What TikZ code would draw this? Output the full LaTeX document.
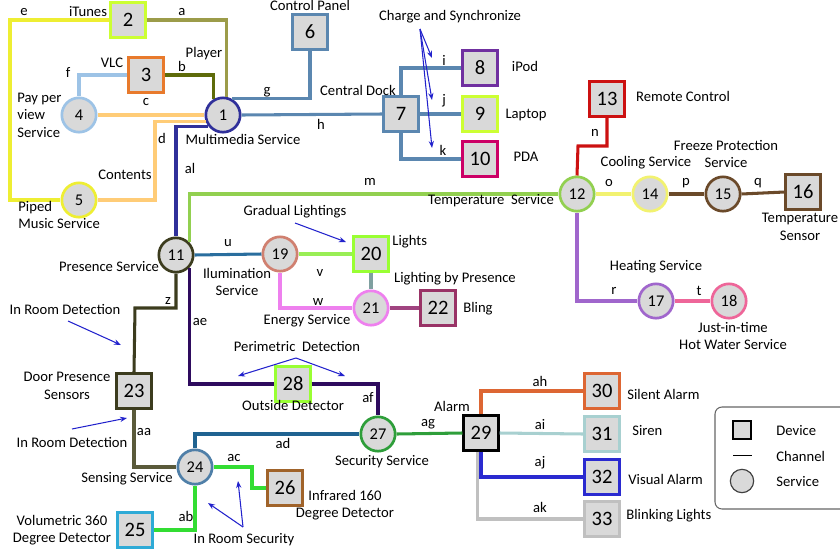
\documentclass[tikz,border=0pt]{standalone}
\usepackage{fontspec}
\setmainfont{Carlito}
\usepackage{xcolor}
\usetikzlibrary{arrows.meta, positioning}

\definecolor{fillgray}{HTML}{D9D9D9}
\definecolor{navy}{HTML}{30309A}
\definecolor{limeyel}{HTML}{CCFF33}
\definecolor{olivea}{HTML}{9C9C4A}
\definecolor{oliveb}{HTML}{5E6B0A}
\definecolor{orangec}{HTML}{FFCC77}
\definecolor{yellowe}{HTML}{EEEE33}
\definecolor{skyblue}{HTML}{9DC3E6}
\definecolor{vlcorange}{HTML}{E87A2C}
\definecolor{steelblue}{HTML}{5B87B0}
\definecolor{ipodpurple}{HTML}{7030A0}
\definecolor{pdacrimson}{HTML}{CC0066}
\definecolor{darkolive}{HTML}{3C3C1E}
\definecolor{olivegray}{HTML}{5A5A3A}
\definecolor{tempgreen}{HTML}{92D050}
\definecolor{remotered}{HTML}{CC1111}
\definecolor{paleyel}{HTML}{F2F270}
\definecolor{brownq}{HTML}{6B4A2A}
\definecolor{lilac}{HTML}{A066CC}
\definecolor{rosepink}{HTML}{EE6699}
\definecolor{rosebrown}{HTML}{D08070}
\definecolor{brightgreen}{HTML}{99FF33}
\definecolor{softgreen}{HTML}{99EE55}
\definecolor{grayteal}{HTML}{7FA0A0}
\definecolor{lightviolet}{HTML}{EE80EE}
\definecolor{plum}{HTML}{993366}
\definecolor{blingline}{HTML}{A04480}
\definecolor{illumblue}{HTML}{2A6E9E}
\definecolor{deeppurple}{HTML}{2E0B5E}
\definecolor{sensblue}{HTML}{4F7FA8}
\definecolor{secblue}{HTML}{1F6391}
\definecolor{cyanblue}{HTML}{2EAAD6}
\definecolor{tanbrown}{HTML}{A0632A}
\definecolor{secgreen}{HTML}{2E9E3A}
\definecolor{vivgreen}{HTML}{33DD33}
\definecolor{silentor}{HTML}{DD6633}
\definecolor{sirenteal}{HTML}{A8D0D0}
\definecolor{visblue}{HTML}{2A2AD0}
\definecolor{blinkgray}{HTML}{C0C0C0}
\definecolor{noteblue}{HTML}{2222CC}

\begin{document}
\begin{tikzpicture}[
    x=0.03cm, y=-0.03cm,
    lbl/.style={font=\fontsize{12.5}{15}\selectfont, inner sep=1pt, align=center},
    devbox/.style={rectangle, draw, line width=2.3pt, fill=fillgray, minimum size=1.03cm, inner sep=0pt, font=\fontsize{17.5}{18}\selectfont},
    srvcirc/.style={circle, draw, line width=2.3pt, fill=fillgray, minimum size=1.03cm, inner sep=0pt, font=\fontsize{14}{15}\selectfont},
    chan/.style={line width=2.6pt},
    note/.style={-{Stealth[length=6pt,width=4.5pt]}, draw=noteblue, line width=0.9pt},
]
\useasboundingbox (0,0) rectangle (840,553);

% Multimedia services and players
\node[srvcirc, draw=navy] (multimedia) at (223,115) {1};
\node[devbox, draw=limeyel] (itunes) at (128,20) {2};
\node[devbox, draw=vlcorange] (vlc) at (146,75) {3};
\node[srvcirc, draw=skyblue] (payview) at (79,115) {4};
\node[srvcirc, draw=yellowe] (piped) at (79,200) {5};
\node[devbox, draw=steelblue] (panel) at (310,32) {6};
\node[devbox, draw=steelblue] (dock) at (401,114) {7};
\node[devbox, draw=ipodpurple] (ipod) at (480,68) {8};
\node[devbox, draw=limeyel] (laptop) at (480,114) {9};
\node[devbox, draw=pdacrimson] (pda) at (480,159) {10};

% Temperature services
\node[srvcirc, draw=tempgreen] (temp) at (577,194) {12};
\node[devbox, draw=remotered] (remote) at (607,99) {13};
\node[srvcirc, draw=paleyel] (cooling) at (650,194) {14};
\node[srvcirc, draw=brownq] (freeze) at (723,194) {15};
\node[devbox, draw=brownq] (sensor) at (803,192) {16};
\node[srvcirc, draw=lilac] (heating) at (656,301) {17};
\node[srvcirc, draw=rosepink] (hotwater) at (729,301) {18};

% Presence and lighting
\node[srvcirc, draw=darkolive] (presence) at (176,255) {11};
\node[srvcirc, draw=rosebrown] (illum) at (280,254) {19};
\node[devbox, draw=brightgreen] (lights) at (371,254) {20};
\node[srvcirc, draw=lightviolet] (energy) at (371,308) {21};
\node[devbox, draw=plum] (bling) at (438,308) {22};

% Sensing and security
\node[devbox, draw=darkolive] (door) at (134,391) {23};
\node[srvcirc, draw=sensblue] (sensing) at (195,467) {24};
\node[devbox, draw=cyanblue] (volumetric) at (135,530) {25};
\node[devbox, draw=tanbrown] (infrared) at (285,488) {26};
\node[srvcirc, draw=secgreen] (security) at (378,434) {27};
\node[devbox, draw=brightgreen] (outside) at (293,384) {28};
\node[devbox, draw=black] (alarm) at (481,433) {29};
\node[devbox, draw=silentor] (silent) at (602,391) {30};
\node[devbox, draw=sirenteal] (siren) at (602,434) {31};
\node[devbox, draw=visblue] (visual) at (602,477) {32};
\node[devbox, draw=blinkgray] (blinking) at (602,519) {33};

% Turning points of channels
\coordinate (eturn) at (10,200);
\coordinate (dturn) at (155,200);
\coordinate (nturn) at (578,146);
\coordinate (zturn) at (135,308);
\coordinate (acturn) at (252,488);

% Channels
\draw[chan, draw=olivea] (itunes.east) -| (multimedia.80);
\draw[chan, draw=oliveb] (vlc.east) -| (multimedia.120);
\draw[chan, draw=skyblue] (vlc.west) -| (payview.north);
\draw[chan, draw=orangec] (payview.east) -- (multimedia.west);
\draw[chan, draw=orangec] (multimedia.200) -| (dturn) -- (piped.east);
\draw[chan, draw=yellowe] (itunes.west) -| (eturn) -- (piped.west);
\draw[chan, draw=steelblue] (multimedia.60) -| (panel.south);
\draw[chan, draw=steelblue] (multimedia.east) -- (dock.west);
\draw[chan, draw=steelblue] (dock.north) |- (ipod.west);
\draw[chan, draw=steelblue] (dock.east) -- (laptop.west);
\draw[chan, draw=steelblue] (dock.south) |- (pda.west);
\draw[chan, draw=navy] (multimedia.218) -| (presence.north);
\draw[chan, draw=tempgreen] (presence.45) |- (temp.west);
\draw[chan, draw=remotered] (remote.south) |- (nturn) -- (temp.north);
\draw[chan, draw=paleyel] (temp.east) -- (cooling.west);
\draw[chan, draw=brownq] (cooling.east) -- (freeze.west);
\draw[chan, draw=brownq] (freeze.east) -- (sensor.west);
\draw[chan, draw=lilac] (temp.south) |- (heating.west);
\draw[chan, draw=rosepink] (heating.east) -- (hotwater.west);
\draw[chan, draw=illumblue] (presence.east) -- (illum.west);
\draw[chan, draw=softgreen] (illum.east) -- (lights.west);
\draw[chan, draw=grayteal] (lights.south) -- (energy.north);
\draw[chan, draw=lightviolet] (illum.south) |- (energy.west);
\draw[chan, draw=blingline] (energy.east) -- (bling.west);
\draw[chan, draw=deeppurple] (presence.-45) |- (outside.west);
\draw[chan, draw=deeppurple] (outside.east) -| (security.north);
\draw[chan, draw=darkolive] (presence.south) |- (zturn) -- (door.north);
\draw[chan, draw=olivegray] (door.south) |- (sensing.west);
\draw[chan, draw=secblue] (sensing.north) |- (security.west);
\draw[chan, draw=vivgreen] (sensing.east) -| (acturn) -- (infrared.west);
\draw[chan, draw=vivgreen] (sensing.south) |- (volumetric.east);
\draw[chan, draw=secgreen] (security.east) -- (alarm.west);
\draw[chan, draw=silentor] (alarm.north) |- (silent.west);
\draw[chan, draw=sirenteal] (alarm.east) -- (siren.west);
\draw[chan, draw=blinkgray] ([xshift=-3pt]alarm.south) |- (blinking.west);
\draw[chan, draw=visblue] (alarm.south) |- (visual.west);

% Channel names
\node[lbl] (la) at (182,12) {a};
\node[lbl] (lb) at (182,66) {b};
\node[lbl] (lc) at (146,102) {c};
\node[lbl] (ld) at (162,138) {d};
\node[lbl] (le) at (24,12) {e};
\node[lbl] (lf) at (68,72) {f};
\node[lbl] (lg) at (267,92) {g};
\node[lbl] (lh) at (321,124) {h};
\node[lbl] (li) at (444,60) {i};
\node[lbl] (lj) at (444,101) {j};
\node[lbl] (lk) at (443,150) {k};
\node[lbl] (lal) at (190,168) {al};
\node[lbl] (lm) at (370,182) {m};
\node[lbl] (ln) at (595,133) {n};
\node[lbl] (lo) at (609,183) {o};
\node[lbl] (lp) at (686,183) {p};
\node[lbl] (lq) at (758,183) {q};
\node[lbl] (lr) at (614,291) {r};
\node[lbl] (lt) at (699,291) {t};
\node[lbl] (lu) at (228,243) {u};
\node[lbl] (lv) at (320,273) {v};
\node[lbl] (lw) at (318,302) {w};
\node[lbl] (lz) at (168,301) {z};
\node[lbl] (lae) at (200,322) {ae};
\node[lbl] (laf) at (368,398) {af};
\node[lbl] (laa) at (144,432) {aa};
\node[lbl] (lad) at (283,443) {ad};
\node[lbl] (lac) at (234,458) {ac};
\node[lbl] (lab) at (186,516) {ab};
\node[lbl] (lag) at (428,424) {ag};
\node[lbl] (lah) at (540,381) {ah};
\node[lbl] (lai) at (540,425) {ai};
\node[lbl] (laj) at (540,463) {aj};
\node[lbl] (lak) at (540,507) {ak};

% Component names
\node[lbl] (titunes) at (88,12) {iTunes};
\node[lbl] (tplayer) at (204,54) {Player};
\node[lbl] (tvlc) at (112,63) {VLC};
\node[lbl, anchor=west, align=left] (tpay) at (16,115) {Pay per\\view\\Service};
\node[lbl] (tmulti) at (243,139) {Multimedia Service};
\node[lbl] (tcontents) at (125,175) {Contents};
\node[lbl, anchor=west, align=left] (tpiped) at (17,215) {Piped\\Music Service};
\node[lbl] (tpanel) at (310,5) {Control Panel};
\node[lbl] (tdock) at (358,90) {Central Dock};
\node[lbl] (tcharge) at (450,17) {Charge and Synchronize};
\node[lbl] (tipod) at (525,66) {iPod};
\node[lbl] (tlaptop) at (526,115) {Laptop};
\node[lbl] (tpda) at (526,157) {PDA};
\node[lbl] (tremote) at (683,96) {Remote Control};
\node[lbl] (tcooling) at (646,163) {Cooling Service};
\node[lbl] (tfreeze) at (726,154) {Freeze Protection\\Service};
\node[lbl] (tsensor) at (800,227) {Temperature\\Sensor};
\node[lbl] (ttemp) at (491,201) {Temperature\ \ Service};
\node[lbl] (theating) at (656,267) {Heating Service};
\node[lbl] (thot) at (733,336) {Just-in-time\\Hot Water Service};
\node[lbl] (tpresence) at (109,267) {Presence Service};
\node[lbl] (tillum) at (237,282) {Ilumination\\Service};
\node[lbl] (tgradual) at (295,212) {Gradual Lightings};
\node[lbl, anchor=west] (tlights) at (391,242) {Lights};
\node[lbl] (tbypres) at (455,279) {Lighting by Presence};
\node[lbl] (tenergy) at (307,321) {Energy Service};
\node[lbl] (tbling) at (478,309) {Bling};
\node[lbl] (tdetect) at (65,309) {In Room Detection};
\node[lbl] (tdoor) at (67,386) {Door Presence\\Sensors};
\node[lbl] (tperim) at (297,346) {Perimetric\ \ Detection};
\node[lbl] (toutside) at (293,405) {Outside Detector};
\node[lbl] (tdetect2) at (72,442) {In Room Detection};
\node[lbl] (tsecurity) at (382,462) {Security Service};
\node[lbl] (tsensing) at (127,479) {Sensing Service};
\node[lbl] (tinfra) at (345,505) {Infrared 160\\Degree Detector};
\node[lbl] (tvolu) at (62,530) {Volumetric 360\\Degree Detector};
\node[lbl] (troomsec) at (244,540) {In Room Security};
\node[lbl] (talarm) at (452,406) {Alarm};
\node[lbl, anchor=west] (tsilent) at (626,394) {Silent Alarm};
\node[lbl, anchor=west] (tsiren) at (631,431) {Siren};
\node[lbl, anchor=west] (tvisual) at (627,479) {Visual Alarm};
\node[lbl, anchor=west] (tblink) at (625,516) {Blinking Lights};

% Annotation arrows
\coordinate (chg) at (420,29);
\coordinate (chgi) at (432,58);
\coordinate (chgj) at (432,100);
\coordinate (chgk) at (432,148);
\draw[note] (chg) -- (chgi);
\draw[note] (chg) -- (chgj);
\draw[note] (chg) -- (chgk);
\coordinate (grad) at (295,223);
\coordinate (gradend) at (346,242);
\draw[note] (grad) -- (gradend);
\coordinate (perim) at (296,358);
\coordinate (perimw) at (238,376);
\coordinate (perime) at (345,376);
\draw[note] (perim) -- (perimw);
\draw[note] (perim) -- (perime);
\coordinate (det) at (68,321);
\coordinate (detend) at (121,345);
\draw[note] (det) -- (detend);
\coordinate (dettwo) at (72,429);
\coordinate (dettwoend) at (127,418);
\draw[note] (dettwo) -- (dettwoend);
\coordinate (rsec) at (243,527);
\coordinate (rsecw) at (208,503);
\coordinate (rsecn) at (238,481);
\draw[note] (rsec) -- (rsecw);
\draw[note] (rsec) -- (rsecn);

% Legend
\draw[rounded corners=6pt, line width=0.9pt, draw=gray!80!black] (715,407) rectangle (855,509);
\node[rectangle, draw, line width=1.4pt, fill=fillgray, minimum size=0.55cm] (legdev) at (742,430) {};
\coordinate (legchw) at (733,455);
\coordinate (legche) at (752,455);
\draw[line width=0.8pt] (legchw) -- (legche);
\node[circle, draw=darkgray, line width=1pt, fill=fillgray, minimum size=0.7cm] (legsrv) at (742,481) {};
\node[lbl, anchor=west] (tlegdev) at (775,431) {Device};
\node[lbl, anchor=west] (tlegch) at (775,456) {Channel};
\node[lbl, anchor=west] (tlegsrv) at (775,482) {Service};

\end{tikzpicture}
\end{document}
